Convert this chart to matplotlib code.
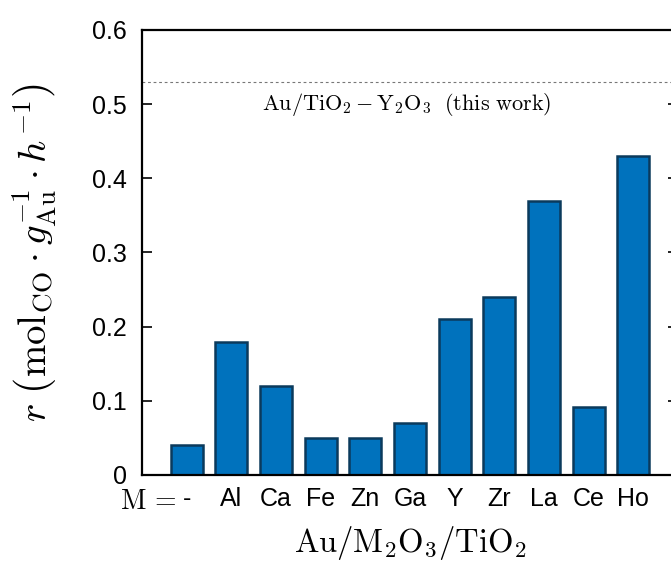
import matplotlib
matplotlib.use("Agg")
import matplotlib.pyplot as plt

metals = ["-", "Al", "Ca", "Fe", "Zn", "Ga", "Y", "Zr", "La", "Ce", "Ho"]
rates = [0.04, 0.18, 0.12, 0.05, 0.05, 0.07, 0.21, 0.24, 0.37, 0.092, 0.43]
this_work = 0.53
y_ticks = [0, 0.1, 0.2, 0.3, 0.4, 0.5, 0.6]
y_tick_labels = ["0", "0.1", "0.2", "0.3", "0.4", "0.5", "0.6"]

plt.rcParams["mathtext.fontset"] = "cm"
plt.rcParams["font.family"] = ["Liberation Sans", "DejaVu Sans"]

fig = plt.figure(figsize=(6.71, 5.66), dpi=100)
ax = fig.add_axes([142 / 671, 1 - 475 / 566, 536 / 671, 445 / 566])

positions = list(range(1, len(metals) + 1))
ax.bar(positions, rates, width=0.72, color="#0072BD", edgecolor="#0B3A5C",
       linewidth=1.8, zorder=2)
ax.axhline(this_work, color="#777777", linestyle=(0, (2.5, 2.5)), linewidth=0.8,
           zorder=1)
ax.text(2.69, 0.5, r"$\mathrm{Au/TiO_2-Y_2O_3\ \ (this\ work)}$", fontsize=16,
        ha="left", va="center")

ax.set_xlim(0, len(metals) + 1)
ax.set_ylim(0, 0.6)
ax.set_xticks(positions)
ax.set_xticklabels(metals, fontsize=18)
ax.set_yticks(y_ticks)
ax.set_yticklabels(y_tick_labels, fontsize=18)
ax.tick_params(axis="x", length=0, pad=9)
ax.tick_params(axis="y", direction="in", length=7, width=1.2, right=True, pad=11)
for spine in ax.spines.values():
    spine.set_linewidth(1.6)

ax.text(0.77, -34 / 445, r"$\mathrm{M}\,=$", transform=ax.get_xaxis_transform(),
        fontsize=20, ha="right", va="baseline")
ax.set_xlabel(r"$\mathrm{Au/M_2O_3/TiO_2}$", fontsize=23.5, labelpad=9)
ax.set_ylabel(r"$r\ \left(\mathrm{mol_{CO}}\cdot g_{\mathrm{Au}}^{-1}\cdot h^{-1}\right)$",
              fontsize=28, labelpad=24)

fig.savefig("out.png", dpi=100)
